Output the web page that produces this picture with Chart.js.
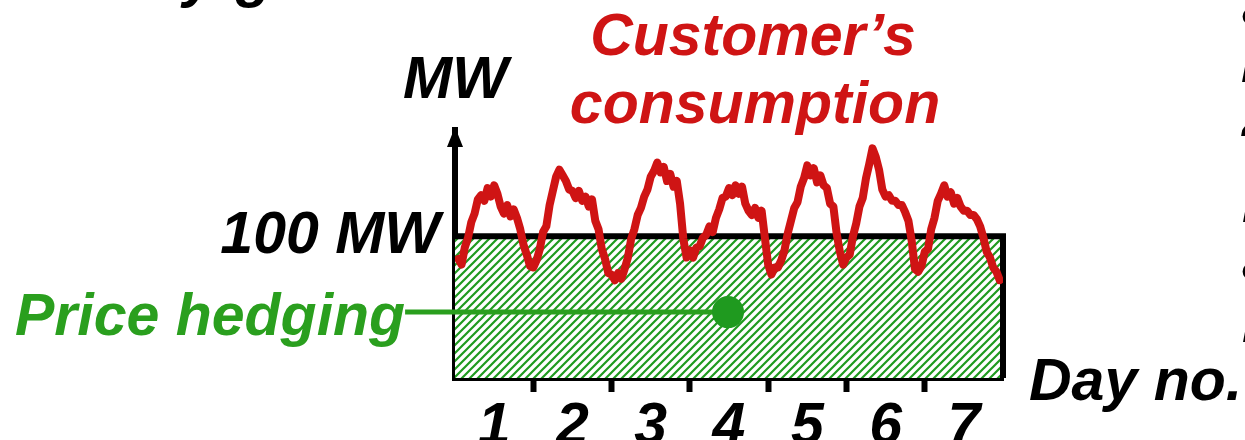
<!DOCTYPE html>
<html>
<head>
<meta charset="utf-8">
<script src="https://cdn.jsdelivr.net/npm/chart.js@4"></script>
<style>
  html, body { margin: 0; padding: 0; background: #fff; }
</style>
</head>
<body>
<canvas id="chart" width="1245" height="440"></canvas>
<script>
// === Data ===
const days = ['1', '2', '3', '4', '5', '6', '7'];
const yTicks = [100];

// hour of the week, customer's consumption in MW
const hours = [
  1, 2, 3, 4, 5, 6, 7, 8, 9, 10, 11, 12, 13, 14, 15, 16, 17, 18, 19, 20, 21, 22, 23, 24,
  25, 26, 27, 28, 29, 30, 31, 32, 33, 34, 35, 36, 37, 38, 39, 40, 41, 42, 43, 44, 45, 46, 47, 48,
  49, 50, 51, 52, 53, 54, 55, 56, 57, 58, 59, 60, 61, 62, 63, 64, 65, 66, 67, 68, 69, 70, 71, 72,
  73, 74, 75, 76, 77, 78, 79, 80, 81, 82, 83, 84, 85, 86, 87, 88, 89, 90, 91, 92, 93, 94, 95, 96,
  97, 98, 99, 100, 101, 102, 103, 104, 105, 106, 107, 108, 109, 110, 111, 112, 113, 114, 115, 116, 117, 118, 119, 120,
  121, 122, 123, 124, 125, 126, 127, 128, 129, 130, 131, 132, 133, 134, 135, 136, 137, 138, 139, 140, 141, 142, 143, 144,
  145, 146, 147, 148, 149, 150, 151, 152, 153, 154, 155, 156, 157, 158, 159, 160, 161, 162, 163, 164, 165, 166, 167
];
const consumption = [
  84, 80, 92, 99, 110, 116, 126, 129, 125, 134, 128, 136, 130, 121, 116, 122, 114, 119, 113, 105, 94, 87, 79, 78,
  83, 91, 103, 107, 122, 132, 142, 147, 143, 139, 133, 132, 127, 132, 125, 128, 121, 126, 111, 105, 91, 84, 74, 73,
  69, 74, 70, 77, 85, 98, 105, 115, 120, 128, 133, 142, 146, 152, 145, 149, 139, 144, 135, 139, 123, 98, 85, 90,
  85, 92, 93, 99, 101, 107, 103, 113, 119, 127, 128, 134, 129, 136, 130, 135, 123, 118, 115, 120, 113, 118, 99, 80,
  73, 78, 78, 83, 90, 102, 111, 120, 124, 135, 141, 150, 143, 148, 138, 143, 136, 134, 123, 121, 102, 89, 80, 85,
  87, 100, 109, 121, 127, 141, 151, 162, 156, 147, 133, 128, 129, 125, 125, 122, 122, 117, 111, 97, 77, 75, 79, 89,
  91, 105, 113, 125, 130, 136, 128, 131, 123, 127, 121, 118, 118, 115, 115, 112, 107, 99, 89, 85, 78, 75, 69
];

// hedged block: 100 MW flat over the whole week
const hedgeHours = [0, 168, 168];
const hedgeMW = [100, 100, 0];

// "Price hedging" callout line ending in a dot
const calloutHours = [-15.3, 83.7];
const calloutMW = [46.5, 46.5];

const RED = '#cf1414';
const GREEN = '#2a9f1e';
const FONT = '"Liberation Sans", Arial, sans-serif';

// === Hatch pattern for the hedge block ===
function makeHatch() {
  const c = document.createElement('canvas');
  c.width = 8; c.height = 8;
  const g = c.getContext('2d');
  g.fillStyle = '#fff';
  g.fillRect(0, 0, 8, 8);
  g.strokeStyle = '#1f9a1f';
  g.lineWidth = 2.2;
  g.beginPath();
  g.moveTo(0, 8); g.lineTo(8, 0);
  g.moveTo(-2, 2); g.lineTo(2, -2);
  g.moveTo(6, 10); g.lineTo(10, 6);
  g.stroke();
  return g.createPattern(c, 'repeat');
}

// === Axis arrow + free text ===
const decorations = {
  id: 'decorations',
  afterDraw(chart) {
    const { ctx, chartArea } = chart;
    ctx.save();
    // arrow head on the MW axis
    ctx.fillStyle = '#000';
    ctx.beginPath();
    ctx.moveTo(chartArea.left, chartArea.top - 3);
    ctx.lineTo(chartArea.left - 8, chartArea.top + 17);
    ctx.lineTo(chartArea.left + 8, chartArea.top + 17);
    ctx.closePath();
    ctx.fill();

    ctx.font = `italic bold 59px ${FONT}`;
    ctx.textBaseline = 'alphabetic';
    ctx.textAlign = 'left';
    ctx.fillText('MW', 403, 98);
    ctx.fillText('Day no.', 1029, 400);

    // cropped text from the surrounding slide
    ctx.fillText('y', 183, -4);
    ctx.fillText('g', 236, -4);
    ctx.fillText('\u2022', 1240, 36);
    ctx.fillText('i', 1241, 82);
    ctx.fillText('2', 1242, 136);
    ctx.fillText('r', 1242, 222);
    ctx.fillText('\u2022', 1240, 291);
    ctx.fillText('r', 1242, 342);

    ctx.fillStyle = RED;
    ctx.textAlign = 'center';
    ctx.fillText('Customer\u2019s', 753, 55);
    ctx.fillText('consumption', 755, 123);

    ctx.fillStyle = GREEN;
    ctx.textAlign = 'left';
    ctx.fillText('Price hedging', 15, 335);
    ctx.restore();
  }
};

const tickFont = { family: FONT, size: 59, weight: 'bold', style: 'italic' };

new Chart(document.getElementById('chart'), {
  type: 'line',
  data: {
    datasets: [
      {
        label: 'Customer\u2019s consumption',
        data: hours.map((h, i) => ({ x: h, y: consumption[i] })),
        borderColor: RED,
        borderWidth: 8,
        borderJoinStyle: 'round',
        borderCapStyle: 'round',
        pointRadius: 0,
        tension: 0,
        fill: false,
        order: 0
      },
      {
        label: 'Price hedging callout',
        data: calloutHours.map((h, i) => ({ x: h, y: calloutMW[i] })),
        borderColor: GREEN,
        backgroundColor: '#1f9a1f',
        borderWidth: 5,
        pointRadius: [0, 16],
        pointBorderWidth: 0,
        clip: false,
        fill: false,
        order: 1
      },
      {
        label: 'Price hedging',
        data: hedgeHours.map((h, i) => ({ x: h, y: hedgeMW[i] })),
        borderColor: '#000',
        borderWidth: 6,
        borderJoinStyle: 'miter',
        backgroundColor: makeHatch(),
        pointRadius: 0,
        fill: 'origin',
        tension: 0,
        clip: false,
        order: 2
      }
    ]
  },
  options: {
    responsive: false,
    animation: false,
    layout: { padding: { left: 0, right: 242, top: 130, bottom: 0 } },
    plugins: {
      legend: { display: false },
      tooltip: { enabled: false }
    },
    scales: {
      x: { type: 'linear', min: 0, max: 168, display: false },
      days: {
        type: 'category',
        labels: days,
        position: 'bottom',
        offset: true,
        afterFit: s => { s.height = 62; },
        grid: {
          offset: true,
          drawOnChartArea: false,
          tickLength: 14,
          tickWidth: 6,
          tickColor: c => (c.tick === undefined || c.index === 0) ? 'rgba(0,0,0,0)' : '#000'
        },
        border: { color: '#000', width: 6 },
        ticks: { color: '#000', font: tickFont, padding: 0, maxRotation: 0 }
      },
      y: {
        type: 'linear',
        min: 0,
        max: 175,
        afterFit: s => { s.width = 455; },
        afterBuildTicks: s => { s.ticks = yTicks.map(v => ({ value: v })); },
        grid: { drawOnChartArea: false, drawTicks: false },
        border: { color: '#000', width: 6 },
        ticks: {
          color: '#000',
          font: tickFont,
          padding: 15,
          callback: v => v + ' MW'
        }
      }
    }
  },
  plugins: [decorations]
});
</script>
</body>
</html>
